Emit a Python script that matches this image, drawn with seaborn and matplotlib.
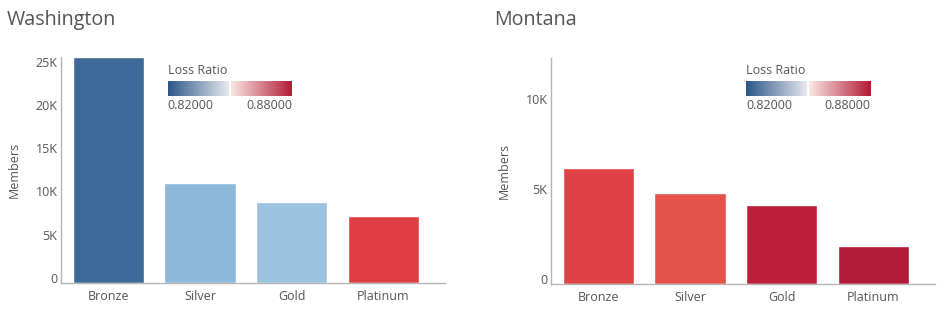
import matplotlib
matplotlib.use("Agg")
import matplotlib.pyplot as plt
import matplotlib.colors as mcolors
from matplotlib.cm import ScalarMappable
from matplotlib.ticker import FuncFormatter
import seaborn as sns
import pandas as pd

# ---- data ----
tiers = ["Bronze", "Silver", "Gold", "Platinum"]
states = ["Washington", "Montana"]
wa_members = [26100, 11550, 9350, 7750]
mt_members = [6420, 5060, 4380, 2080]
wa_loss_ratio = [0.8290, 0.8428, 0.8452, 0.8700]
mt_loss_ratio = [0.8695, 0.8668, 0.8758, 0.8788]
lr_min, lr_max = 0.82, 0.88
wa_yticks = [0, 5000, 10000, 15000, 20000, 25000]
mt_yticks = [0, 5000, 10000]
wa_ymax = 26150
mt_ymax = 12540

sns.set_theme(style="white")
plt.rcParams["font.family"] = ["Open Sans", "DejaVu Sans"]

TXT = "#555555"
SPINE = "#b4b4b4"

bar_cmap = mcolors.LinearSegmentedColormap.from_list(
    "lr_bars",
    [(0.00, "#2a5485"), (0.15, "#3d6a99"), (0.30, "#6a9ac8"), (0.38, "#8cb8dc"),
     (0.44, "#a3c9e1"), (0.50, "#f2f2f2"), (0.56, "#f7c6b6"), (0.68, "#ee7a66"),
     (0.78, "#e5524a"), (0.83, "#e04044"), (0.93, "#be1f3a"), (1.00, "#ae1a36")])
legend_cmap = mcolors.LinearSegmentedColormap.from_list(
    "lr_legend",
    [(0.0, "#2b5687"), (0.49, "#e6e8ef"), (0.495, "#ffffff"), (0.505, "#ffffff"),
     (0.51, "#f8e6e2"), (1.0, "#b31b35")])
norm = mcolors.Normalize(lr_min, lr_max)

fig = plt.figure(figsize=(9.4, 3.12), dpi=100)
W, H = 940, 312

panels = [
    dict(name=states[0], members=wa_members, lr=wa_loss_ratio, yticks=wa_yticks,
         ymax=wa_ymax, left=61, bottom=283, top=56.7, title_x=7, cbar_x=167.7),
    dict(name=states[1], members=mt_members, lr=mt_loss_ratio, yticks=mt_yticks,
         ymax=mt_ymax, left=551, bottom=283.7, top=58.3, title_x=494, cbar_x=746),
]

def kfmt(v, pos):
    return "0" if v == 0 else f"{int(round(v / 1000))}K"

for p in panels:
    ax = fig.add_axes([p["left"] / W, (H - p["bottom"]) / H, 384 / W,
                       (p["bottom"] - p["top"]) / H])
    df = pd.DataFrame({"Tier": tiers, "Members": p["members"], "LR": p["lr"]})
    pal = {t: bar_cmap(norm(v)) for t, v in zip(tiers, p["lr"])}
    sns.barplot(data=df, x="Tier", y="Members", hue="Tier", palette=pal,
                order=tiers, hue_order=tiers, legend=False, saturation=1,
                width=0.778, ax=ax)
    ax.set_xlim(-0.517, 3.672)
    ax.set_ylim(0, p["ymax"])
    ax.set_yticks(p["yticks"])
    ax.yaxis.set_major_formatter(FuncFormatter(kfmt))
    ax.tick_params(axis="both", length=0, labelsize=9, labelcolor=TXT)
    ax.tick_params(axis="y", pad=2.5)
    ax.tick_params(axis="x", pad=5)
    for t in ax.get_yticklabels():
        t.set_va("baseline")
    ax.set_xlabel("")
    ax.set_ylabel("Members", fontsize=9, color=TXT)
    ax.yaxis.set_label_coords(-0.104, 0.5)
    for s in ["top", "right"]:
        ax.spines[s].set_visible(False)
    for s in ["left", "bottom"]:
        ax.spines[s].set_color(SPINE)
        ax.spines[s].set_linewidth(1)
    ax.grid(False)

    fig.text(p["title_x"] / W, 1 - 20 / H, p["name"], fontsize=14.2,
             color=TXT, ha="left", va="center")

    cax = fig.add_axes([p["cbar_x"] / W, (H - 96) / H, 124.6 / W, 15 / H])
    cb = fig.colorbar(ScalarMappable(norm=norm, cmap=legend_cmap), cax=cax,
                      orientation="horizontal")
    cb.outline.set_visible(False)
    cb.set_ticks([])
    cax.text(0, 1.25, "Loss Ratio", transform=cax.transAxes, fontsize=9,
             color=TXT, ha="left", va="bottom")
    cax.text(0, -0.2, f"{lr_min:.5f}", transform=cax.transAxes, fontsize=9,
             color=TXT, ha="left", va="top")
    cax.text(1, -0.2, f"{lr_max:.5f}", transform=cax.transAxes, fontsize=9,
             color=TXT, ha="right", va="top")

fig.savefig("out.png", dpi=100, facecolor="white")
